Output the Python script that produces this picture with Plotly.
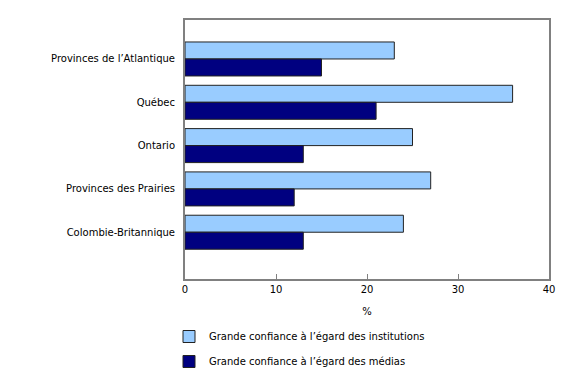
import plotly.graph_objects as go

categories = ["Provinces de l’Atlantique", "Québec", "Ontario", "Provinces des Prairies", "Colombie-Britannique"]
institutions = [23, 36, 25, 27, 24]
medias = [15, 21, 13, 12, 13]
series_names = ["Grande confiance à l’égard des institutions", "Grande confiance à l’égard des médias"]
x_ticks = [0, 10, 20, 30, 40]

FONT = "DejaVu Sans, Verdana, sans-serif"

fig = go.Figure()
fig.add_trace(go.Bar(
    y=categories, x=institutions, orientation="h", name=series_names[0],
    marker=dict(color="#99CCFF", line=dict(color="#222222", width=1)),
    legendgroup="a",
))
fig.add_trace(go.Bar(
    y=categories, x=medias, orientation="h", name=series_names[1],
    marker=dict(color="#000080", line=dict(color="#222222", width=1)),
    legendgroup="b",
))

fig.update_layout(
    width=580, height=370,
    margin=dict(l=185, r=31, t=20, b=91, autoexpand=False),
    paper_bgcolor="white", plot_bgcolor="white",
    font=dict(family=FONT, size=10, color="#000000"),
    barmode="group", bargap=0.215, bargroupgap=0,
    showlegend=True,
    legend=dict(
        orientation="v", xref="container", x=169 / 580, xanchor="left",
        yref="container", y=1 - 322 / 370, yanchor="top",
        traceorder="grouped", tracegroupgap=6,
        font=dict(family=FONT, size=10, color="#000000"),
        itemwidth=30, bgcolor="rgba(0,0,0,0)",
    ),
    xaxis=dict(
        range=[0, 40], tickvals=x_ticks, ticktext=[str(v) for v in x_ticks],
        showgrid=False, zeroline=False,
        showline=True, linecolor="#808080", linewidth=2, mirror=True,
        ticks="inside", ticklen=5, tickcolor="#808080", tickwidth=1,
        title=dict(text="%", font=dict(family=FONT, size=10), standoff=14),
        fixedrange=True, automargin=False,
    ),
    yaxis=dict(
        type="category", categoryorder="array", categoryarray=categories,
        range=[5.08, -0.9],
        showgrid=False, zeroline=False,
        showline=True, linecolor="#808080", linewidth=2, mirror=True,
        ticks="", ticklabelstandoff=6,
        fixedrange=True, automargin=False,
    ),
)

fig.write_html("out.html")
